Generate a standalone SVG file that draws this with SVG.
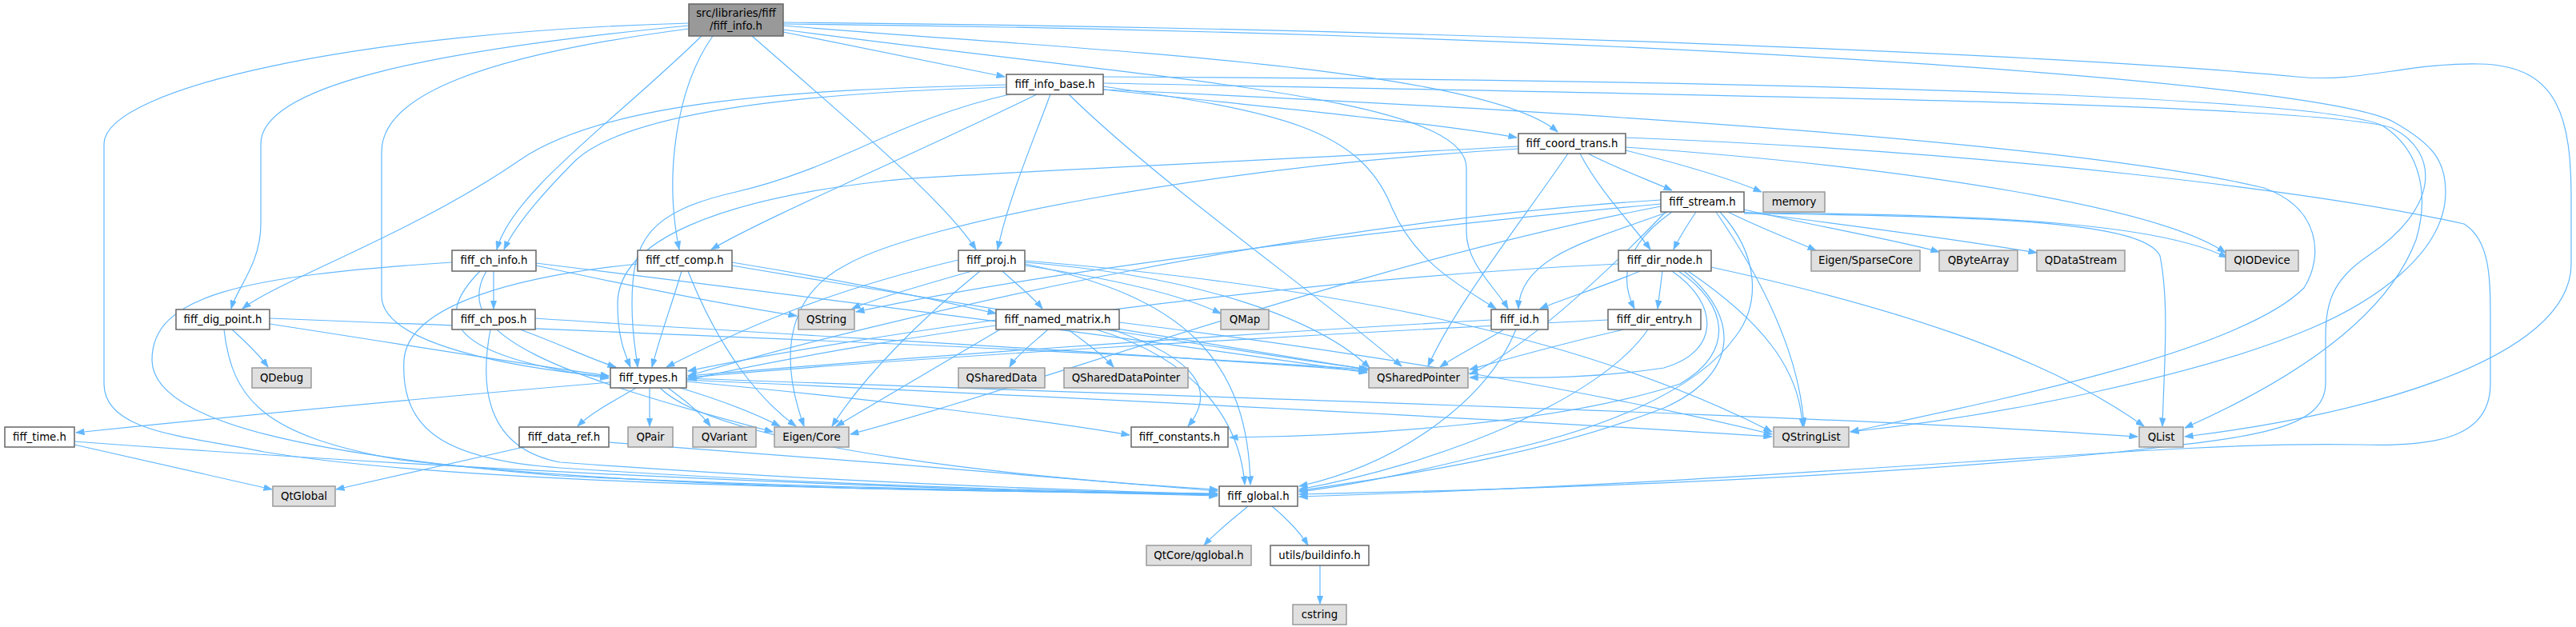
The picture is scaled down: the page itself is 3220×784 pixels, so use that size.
<svg xmlns="http://www.w3.org/2000/svg" width="3220" height="784" viewBox="0 0 3220 784">
<defs>
<marker id="a" markerWidth="11" markerHeight="8" refX="10.5" refY="4" orient="auto" markerUnits="userSpaceOnUse"><path d="M0,0 L11,4 L0,8 z" fill="#63b8ff" stroke="#63b8ff" stroke-width="0.5"/></marker>
<style>
.bg{fill:#fff}
.n rect{fill:#fff;stroke:#666;stroke-width:1.5}
.x rect{fill:#e0e0e0;stroke:#999;stroke-width:1.5}
.r rect{fill:#999;stroke:#666;stroke-width:1.5}
text{font-family:"DejaVu Sans","Liberation Sans",sans-serif;font-size:13.3px;text-anchor:middle;fill:#000}
#edges path{fill:none;stroke:#63b8ff;stroke-width:1.2;marker-end:url(#a)}
</style>
</defs>
<rect class="bg" x="0" y="0" width="3220" height="784"/>
<g id="edges">
<!-- root -->
<path d="M979 40 L1256 96"/>
<path d="M877 45 C770 150,640 240,621 312"/>
<path d="M891 45 C845 110,830 220,849 312"/>
<path d="M861 32 C520 65,326 110,326 180 L326 280 C326 330,296 360,289 386"/>
<path d="M861 29 C450 40,130 110,130 180 L130 480 C130 540,230 545,330 565 C600 610,1200 612,1522 619"/>
<path d="M861 36 C600 70,477 120,477 190 L477 370 C477 430,640 460,761 471"/>
<path d="M940 45 C1060 150,1180 250,1220 312"/>
<path d="M979 32 C1300 60,1850 80,1947 165"/>
<path d="M979 37 C1450 100,1833 120,1833 210 L1833 290 C1833 330,1870 360,1885 386"/>
<path d="M979 28 C1800 35,2600 70,2871 96 C2950 104,3010 78,3100 80 C3200 82,3214 150,3214 250 L3214 330 C3214 450,2950 520,2731 546"/>
<path d="M979 30 C2000 40,2900 100,2993 153 C3040 180,3057 200,3057 240 C3057 320,2960 380,2890 410 C2750 470,2500 520,2313 540"/>
<!-- info_base -->
<path d="M1258 106 C1000 112,760 125,650 200 C520 290,350 350,303 386"/>
<path d="M1258 109 C920 118,770 155,720 200 C680 240,645 280,630 312"/>
<path d="M1296 118 C1150 190,960 270,889 312"/>
<path d="M1262 118 C1120 150,1050 210,920 240 C810 265,790 300,790 380 C790 420,795 440,797 459"/>
<path d="M1313 118 C1290 180,1260 250,1247 312"/>
<path d="M1379 108 C1600 140,1700 160,1740 260 C1770 330,1830 360,1870 386"/>
<path d="M1379 112 C1600 135,1800 155,1896 172"/>
<path d="M1336 118 C1450 230,1650 370,1752 458"/>
<path d="M1379 112 C2000 140,2600 180,2830 235 C2900 260,2905 320,2880 360 C2800 440,2500 500,2313 540"/>
<path d="M1379 96 C2200 100,2900 120,2978 157 C3030 190,3035 250,3020 300 C2990 380,2900 460,2731 535"/>
<path d="M1379 104 C2200 120,2900 130,2990 160 C3050 190,3050 260,2960 320 C2915 350,2907 380,2907 420 L2907 480 C2907 540,2800 548,2650 565 C2300 600,1900 612,1624 618"/>
<!-- coord_trans -->
<path d="M1985 192 C2020 210,2060 225,2090 238"/>
<path d="M2032 188 C2100 205,2160 222,2202 240"/>
<path d="M1975 192 C2000 240,2040 280,2063 312"/>
<path d="M1898 183 C1400 210,1150 220,1100 227 C900 250,772 300,772 380 C772 420,780 440,788 459"/>
<path d="M1898 186 C1500 210,1150 280,1060 330 C980 370,975 450,1005 533"/>
<path d="M1960 192 C1900 280,1820 380,1785 458"/>
<path d="M2032 172 C2500 190,2900 240,3080 280 C3113 300,3113 350,3113 400 L3113 480 C3113 540,3060 560,2950 556 C2700 550,2300 600,1624 621"/>
<path d="M2032 184 C2400 210,2700 260,2782 316"/>
<!-- stream -->
<path d="M2120 265 C2110 280,2100 295,2092 312"/>
<path d="M2090 265 C2040 300,2020 340,2043 386"/>
<path d="M2085 265 C1990 300,1900 320,1898 386"/>
<path d="M2076 250 C1600 280,1100 400,860 470"/>
<path d="M2076 255 C1700 290,1300 340,1070 390"/>
<path d="M2076 258 C1700 330,1300 480,1063 543"/>
<path d="M2160 265 C2200 285,2240 300,2270 313"/>
<path d="M2180 262 C2280 285,2370 300,2424 315"/>
<path d="M2180 265 C2300 280,2450 300,2546 316"/>
<path d="M2180 266 C2500 268,2700 280,2784 322"/>
<path d="M2180 267 C2500 270,2680 278,2700 320 C2712 380,2705 460,2703 533"/>
<path d="M2145 265 C2210 360,2250 450,2255 533"/>
<path d="M2082 265 C2000 350,1900 440,1837 468"/>
<path d="M2150 265 C2200 320,2200 380,2170 420 C2120 490,2000 540,1850 570 C1750 595,1680 608,1624 615"/>
<!-- ch_info -->
<path d="M617 339 L617 386"/>
<path d="M600 339 C540 400,560 445,761 473"/>
<path d="M670 332 C800 360,900 380,996 395"/>
<path d="M670 329 C1000 370,1400 420,1709 466"/>
<path d="M608 339 C560 420,700 470,966 540"/>
<path d="M565 328 C300 345,190 370,190 450 C190 530,400 570,700 595 C1000 610,1300 615,1522 618"/>
<!-- ctf_comp -->
<path d="M852 339 C840 380,825 420,815 459"/>
<path d="M915 328 C1050 350,1150 370,1245 392"/>
<path d="M860 339 C900 440,950 500,995 533"/>
<path d="M915 332 C1200 380,1500 430,1709 462"/>
<path d="M797 330 C650 345,510 380,505 450 C500 540,560 575,700 585 C1000 605,1300 614,1522 618"/>
<!-- proj -->
<path d="M1253 339 C1270 355,1290 370,1303 386"/>
<path d="M1198 325 C1050 360,950 400,833 459"/>
<path d="M1215 339 C1140 360,1090 375,1065 386"/>
<path d="M1281 332 C1400 350,1480 370,1526 392"/>
<path d="M1281 328 C1500 345,1650 400,1712 460"/>
<path d="M1281 326 C1700 360,2000 430,2215 540"/>
<path d="M1225 339 C1150 400,1080 470,1040 533"/>
<path d="M1281 330 C1480 370,1560 450,1563 606"/>
<!-- dir_node -->
<path d="M2078 339 L2072 386"/>
<path d="M2050 339 C2000 360,1950 375,1925 386"/>
<path d="M2023 330 C1600 350,1100 420,860 475"/>
<path d="M2090 339 C2150 380,2150 440,2080 460 C1980 475,1900 472,1837 472"/>
<path d="M2110 339 C2200 400,2250 460,2253 533"/>
<path d="M2139 334 C2350 380,2550 440,2680 533"/>
<path d="M2105 339 C2180 400,2170 470,2080 510 C1900 580,1700 600,1624 614"/>
<path d="M2098 339 C2160 380,2170 440,2100 480 C1950 530,1700 545,1537 547"/>
<!-- dig_point -->
<path d="M290 412 C310 430,325 445,335 459"/>
<path d="M337 405 C500 430,650 455,761 470"/>
<path d="M337 398 C900 420,1400 440,1709 462"/>
<path d="M280 412 C290 500,330 545,500 575 C800 610,1200 615,1522 617"/>
<!-- ch_pos -->
<path d="M650 412 C700 430,740 450,770 459"/>
<path d="M669 398 C1000 420,1400 440,1709 464"/>
<path d="M613 412 C600 480,605 560,700 578 C1000 600,1300 612,1522 618"/>
<!-- named_matrix -->
<path d="M1245 400 C1100 420,950 445,860 464"/>
<path d="M1310 412 C1290 430,1270 445,1262 459"/>
<path d="M1335 412 C1360 430,1380 445,1392 459"/>
<path d="M1380 412 C1500 430,1620 450,1712 462"/>
<path d="M1250 412 L1045 533"/>
<path d="M1390 412 C1500 450,1520 490,1485 533"/>
<path d="M1370 412 C1500 450,1550 530,1556 606"/>
<path d="M1399 403 C1700 440,2000 490,2215 543"/>
<!-- id -->
<path d="M1864 400 C1500 420,1100 450,860 470"/>
<path d="M1880 412 C1850 430,1820 445,1800 459"/>
<path d="M1895 412 C1860 500,1750 580,1624 608"/>
<!-- dir_entry -->
<path d="M2010 400 C1600 420,1100 450,860 472"/>
<path d="M2030 412 C1950 430,1880 450,1837 462"/>
<path d="M2060 412 C2000 500,1800 580,1624 612"/>
<!-- types -->
<path d="M763 478 C500 500,250 525,95 541"/>
<path d="M795 485 C770 500,740 515,722 533"/>
<path d="M812 485 L812 533"/>
<path d="M835 485 C855 500,875 515,888 533"/>
<path d="M850 485 C900 500,940 515,975 533"/>
<path d="M858 477 C1100 500,1300 525,1412 544"/>
<path d="M858 475 C1400 500,1900 525,2215 546"/>
<path d="M858 473 C1600 500,2300 520,2672 546"/>
<path d="M825 485 C900 560,1300 600,1522 612"/>
<!-- data_ref, time -->
<path d="M655 559 C560 580,470 600,420 612"/>
<path d="M761 553 C1000 570,1300 595,1522 614"/>
<path d="M93 556 C200 580,290 600,340 612"/>
<path d="M93 552 C600 590,1100 610,1522 620"/>
<!-- global, buildinfo -->
<path d="M1560 633 C1540 650,1520 665,1505 682"/>
<path d="M1590 633 C1610 650,1625 665,1635 682"/>
<path d="M1650 707 L1650 755"/>
</g>
<g id="root" class="r"><rect x="861" y="5" width="118" height="40"/><text x="920" y="21">src/libraries/fiff</text><text x="920" y="37">/fiff_info.h</text></g>
<g id="fiff_info_base" class="n"><rect x="1258" y="93" width="121" height="25"/><text x="1318.5" y="110">fiff_info_base.h</text></g>
<g id="fiff_coord_trans" class="n"><rect x="1898" y="167" width="134" height="25"/><text x="1965" y="184">fiff_coord_trans.h</text></g>
<g id="fiff_stream" class="n"><rect x="2076" y="240" width="104" height="25"/><text x="2128" y="257">fiff_stream.h</text></g>
<g id="memory" class="x"><rect x="2204" y="240" width="77" height="25"/><text x="2242.5" y="257">memory</text></g>
<g id="fiff_ch_info" class="n"><rect x="565" y="313" width="105" height="26"/><text x="617.5" y="330">fiff_ch_info.h</text></g>
<g id="fiff_ctf_comp" class="n"><rect x="797" y="313" width="118" height="26"/><text x="856" y="330">fiff_ctf_comp.h</text></g>
<g id="fiff_proj" class="n"><rect x="1198" y="313" width="83" height="26"/><text x="1239.5" y="330">fiff_proj.h</text></g>
<g id="fiff_dir_node" class="n"><rect x="2023" y="313" width="116" height="26"/><text x="2081" y="330">fiff_dir_node.h</text></g>
<g id="eigen_sparsecore" class="x"><rect x="2264" y="313" width="136" height="26"/><text x="2332" y="330">Eigen/SparseCore</text></g>
<g id="qbytearray" class="x"><rect x="2424" y="313" width="98" height="26"/><text x="2473" y="330">QByteArray</text></g>
<g id="qdatastream" class="x"><rect x="2546" y="313" width="110" height="26"/><text x="2601" y="330">QDataStream</text></g>
<g id="qiodevice" class="x"><rect x="2782" y="313" width="91" height="26"/><text x="2827.5" y="330">QIODevice</text></g>
<g id="fiff_dig_point" class="n"><rect x="220" y="387" width="117" height="25"/><text x="278.5" y="404">fiff_dig_point.h</text></g>
<g id="fiff_ch_pos" class="n"><rect x="565" y="387" width="104" height="25"/><text x="617" y="404">fiff_ch_pos.h</text></g>
<g id="qstring" class="x"><rect x="998" y="387" width="70" height="25"/><text x="1033" y="404">QString</text></g>
<g id="fiff_named_matrix" class="n"><rect x="1245" y="387" width="154" height="25"/><text x="1322" y="404">fiff_named_matrix.h</text></g>
<g id="qmap" class="x"><rect x="1526" y="387" width="60" height="25"/><text x="1556" y="404">QMap</text></g>
<g id="fiff_id" class="n"><rect x="1864" y="387" width="71" height="25"/><text x="1899.5" y="404">fiff_id.h</text></g>
<g id="fiff_dir_entry" class="n"><rect x="2010" y="387" width="116" height="25"/><text x="2068" y="404">fiff_dir_entry.h</text></g>
<g id="qdebug" class="x"><rect x="315" y="460" width="74" height="25"/><text x="352" y="477">QDebug</text></g>
<g id="fiff_types" class="n"><rect x="763" y="460" width="95" height="25"/><text x="810.5" y="477">fiff_types.h</text></g>
<g id="qshareddata" class="x"><rect x="1198" y="460" width="108" height="25"/><text x="1252" y="477">QSharedData</text></g>
<g id="qshareddatapointer" class="x"><rect x="1330" y="460" width="155" height="25"/><text x="1407.5" y="477">QSharedDataPointer</text></g>
<g id="qsharedpointer" class="x"><rect x="1711" y="460" width="124" height="25"/><text x="1773" y="477">QSharedPointer</text></g>
<g id="fiff_time" class="n"><rect x="6" y="534" width="87" height="25"/><text x="49.5" y="551">fiff_time.h</text></g>
<g id="fiff_data_ref" class="n"><rect x="649" y="534" width="112" height="25"/><text x="705" y="551">fiff_data_ref.h</text></g>
<g id="qpair" class="x"><rect x="785" y="534" width="56" height="25"/><text x="813" y="551">QPair</text></g>
<g id="qvariant" class="x"><rect x="866" y="534" width="79" height="25"/><text x="905.5" y="551">QVariant</text></g>
<g id="eigen_core" class="x"><rect x="968" y="534" width="93" height="25"/><text x="1014.5" y="551">Eigen/Core</text></g>
<g id="fiff_constants" class="n"><rect x="1414" y="534" width="121" height="25"/><text x="1474.5" y="551">fiff_constants.h</text></g>
<g id="qstringlist" class="x"><rect x="2217" y="534" width="94" height="25"/><text x="2264" y="551">QStringList</text></g>
<g id="qlist" class="x"><rect x="2674" y="534" width="55" height="25"/><text x="2701.5" y="551">QList</text></g>
<g id="qtglobal" class="x"><rect x="341" y="608" width="78" height="25"/><text x="380" y="625">QtGlobal</text></g>
<g id="fiff_global" class="n"><rect x="1524" y="608" width="98" height="25"/><text x="1573" y="625">fiff_global.h</text></g>
<g id="qtcore_qglobal" class="x"><rect x="1433" y="682" width="131" height="25"/><text x="1498.5" y="699">QtCore/qglobal.h</text></g>
<g id="utils_buildinfo" class="n"><rect x="1588" y="682" width="123" height="25"/><text x="1649.5" y="699">utils/buildinfo.h</text></g>
<g id="cstring" class="x"><rect x="1616" y="756" width="67" height="25"/><text x="1649.5" y="773">cstring</text></g>
</svg>
